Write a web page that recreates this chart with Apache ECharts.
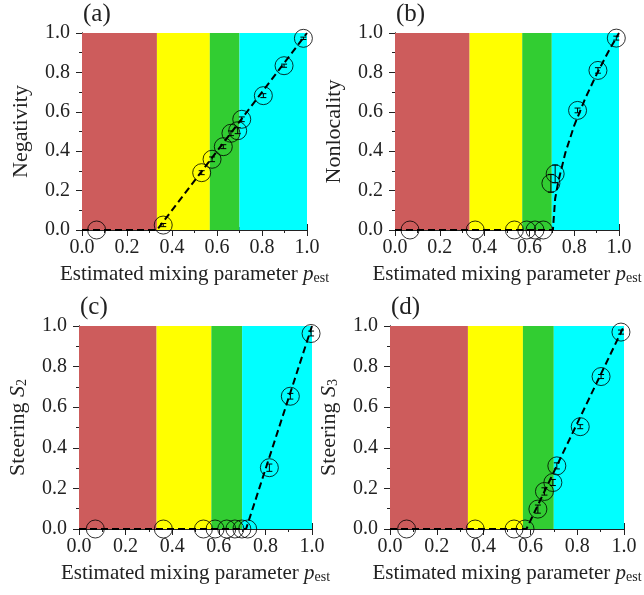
<!DOCTYPE html>
<html>
<head>
<meta charset="utf-8">
<script src="https://cdn.jsdelivr.net/npm/echarts@6/dist/echarts.min.js"></script>
<style>html,body{margin:0;padding:0;background:#fff;}#c{width:644px;height:595px;}</style>
</head>
<body>
<div id="c"></div>
<script>
// ---- data ----
const panelLabels = ['(a)', '(b)', '(c)', '(d)'];
const yNames = ['Negativity', 'Nonlocality', 'Steering {it|S}{sub|2}', 'Steering {it|S}{sub|3}'];
const xName = 'Estimated mixing parameter {it|p}{sub|est}';
const tickValues = [0.0, 0.2, 0.4, 0.6, 0.8, 1.0];

const bandEdges = [0, 0.333, 0.568, 0.700, 1.0];
const bandColors = ['#CD5C5C', '#FFFF00', '#32CD32', '#00FFFF'];

const pEstA = [0.065, 0.361, 0.532, 0.578, 0.628, 0.662, 0.692, 0.710, 0.806, 0.898, 0.984];
const negativity = [0.0, 0.025, 0.291, 0.359, 0.423, 0.491, 0.504, 0.562, 0.682, 0.834, 0.973];
const negErr = [0, 0.008, 0.010, 0.012, 0.010, 0.012, 0.015, 0.012, 0.010, 0.008, 0.006];
const theoryAx = [0.0, 0.333, 1.0];
const theoryAy = [0.0, 0.0, 1.0];

const pEstB = [0.067, 0.358, 0.533, 0.588, 0.625, 0.662, 0.696, 0.715, 0.815, 0.906, 0.988];
const nonlocality = [0.0, 0.0, 0.0, 0.0, 0.0, 0.0, 0.237, 0.285, 0.607, 0.810, 0.974];
const nonErr = [0, 0, 0, 0, 0, 0, 0.045, 0.045, 0.012, 0.014, 0.010];
const theoryBx = [0.0, 0.705, 0.715, 0.73, 0.76, 0.80, 0.85, 0.90, 0.95, 1.0];
const theoryBy = [0.0, 0.0, 0.16, 0.25, 0.39, 0.53, 0.67, 0.79, 0.90, 1.0];

const pEstC = [0.070, 0.362, 0.534, 0.584, 0.634, 0.669, 0.699, 0.724, 0.817, 0.907, 0.996];
const steering2 = [0.0, 0.0, 0.0, 0.0, 0.0, 0.0, 0.0, 0.0, 0.302, 0.654, 0.963];
const s2Err = [0, 0, 0, 0, 0, 0, 0, 0, 0.018, 0.014, 0.012];
const theoryCx = [0.0, 0.717, 1.0];
const theoryCy = [0.0, 0.0, 1.0];

const pEstD = [0.071, 0.364, 0.530, 0.577, 0.632, 0.660, 0.696, 0.713, 0.813, 0.902, 0.987];
const steering3 = [0.0, 0.0, 0.0, 0.0, 0.098, 0.185, 0.229, 0.311, 0.504, 0.751, 0.970];
const s3Err = [0, 0, 0, 0, 0.020, 0.018, 0.015, 0.015, 0.010, 0.010, 0.010];
const theoryDx = [0.0, 0.583, 1.0];
const theoryDy = [0.0, 0.0, 1.0];

const panels = [
  {px: pEstA, py: negativity, err: negErr, tx: theoryAx, ty: theoryAy},
  {px: pEstB, py: nonlocality, err: nonErr, tx: theoryBx, ty: theoryBy},
  {px: pEstC, py: steering2, err: s2Err, tx: theoryCx, ty: theoryCy},
  {px: pEstD, py: steering3, err: s3Err, tx: theoryDx, ty: theoryDy}
];

// ---- layout ----
const grids = [
  {left: 82, top: 33, width: 225, height: 197},
  {left: 395, top: 33, width: 224, height: 197},
  {left: 79, top: 326, width: 233, height: 203},
  {left: 390, top: 326, width: 234, height: 203}
];
const FONT = 'Liberation Serif';
function rich(sz) {
  return {
    it: {fontStyle: 'italic', fontFamily: FONT, fontSize: sz, color: '#222'},
    sub: {fontFamily: FONT, fontSize: Math.round(sz * 0.65), color: '#222', verticalAlign: 'bottom', lineHeight: 10}
  };
}

const xAxes = [], yAxes = [], series = [], graphics = [];
const fmt = v => v.toFixed(1);

grids.forEach((g, i) => {
  const common = {
    min: 0, max: 1, interval: 0.2,
    axisLine: {show: true, lineStyle: {color: '#222', width: 1}},
    axisTick: {show: true, inside: true, length: 6, lineStyle: {color: '#222'}},
    minorTick: {show: true, splitNumber: 2, length: 3, lineStyle: {color: '#222'}},
    splitLine: {show: false}
  };
  xAxes.push(Object.assign({}, common, {
    gridIndex: i, type: 'value', position: 'bottom',
    axisLabel: {fontFamily: FONT, fontSize: 20, color: '#222', margin: 8, formatter: fmt},
    name: xName, nameLocation: 'middle', nameGap: 34,
    nameTextStyle: {fontFamily: FONT, fontSize: 21, color: '#222', rich: rich(21)}
  }));
  xAxes.push(Object.assign({}, common, {
    gridIndex: i, type: 'value', position: 'top', axisLabel: {show: false}
  }));
  yAxes.push(Object.assign({}, common, {
    gridIndex: i, type: 'value', position: 'left',
    axisLabel: {fontFamily: FONT, fontSize: 20, color: '#222', margin: 12, formatter: fmt},
    name: yNames[i], nameLocation: 'middle', nameGap: 50,
    nameTextStyle: {fontFamily: FONT, fontSize: 22, color: '#222', rich: rich(22)}
  }));
  yAxes.push(Object.assign({}, common, {
    gridIndex: i, type: 'value', position: 'right', axisLabel: {show: false}
  }));

  const xi = 2 * i, yi = 2 * i;
  const p = panels[i];

  // colour bands
  const bandData = bandColors.map((c, k) => [bandEdges[k], bandEdges[k + 1], k]);
  series.push({
    type: 'custom', xAxisIndex: xi, yAxisIndex: yi, z: 1, silent: true,
    data: bandData,
    renderItem: (params, api) => {
      const a = api.coord([api.value(0), 1]);
      const b = api.coord([api.value(1), 0]);
      return {type: 'rect', shape: {x: a[0], y: a[1], width: b[0] - a[0], height: b[1] - a[1]},
        style: {fill: bandColors[api.value(2)]}};
    }
  });

  // theory dashed line
  series.push({
    type: 'line', xAxisIndex: xi, yAxisIndex: yi, z: 3, symbol: 'none', silent: true,
    data: p.tx.map((x, k) => [x, p.ty[k]]),
    lineStyle: {color: '#000', width: 2, type: [7, 4]}
  });

  // error bars
  series.push({
    type: 'custom', xAxisIndex: xi, yAxisIndex: yi, z: 4, silent: true,
    data: p.px.map((x, k) => [x, p.py[k], p.err[k]]),
    renderItem: (params, api) => {
      const e = api.value(2);
      if (!e) return null;
      const x = api.value(0), y = api.value(1);
      const t = api.coord([x, y + e]);
      const b = api.coord([x, y - e]);
      const w = 3;
      const st = {stroke: '#000', lineWidth: 1};
      return {type: 'group', children: [
        {type: 'line', shape: {x1: t[0], y1: t[1], x2: b[0], y2: b[1]}, style: st},
        {type: 'line', shape: {x1: t[0] - w, y1: t[1], x2: t[0] + w, y2: t[1]}, style: st},
        {type: 'line', shape: {x1: b[0] - w, y1: b[1], x2: b[0] + w, y2: b[1]}, style: st}
      ]};
    }
  });

  // data circles
  series.push({
    type: 'scatter', xAxisIndex: xi, yAxisIndex: yi, z: 5, clip: false,
    symbol: 'circle', symbolSize: 18,
    data: p.px.map((x, k) => [x, p.py[k]]),
    itemStyle: {color: 'rgba(0,0,0,0)', borderColor: '#000', borderWidth: 1}
  });

  graphics.push({
    type: 'text', left: g.left + 1, top: g.top - 31,
    style: {text: panelLabels[i], fontFamily: FONT, fontSize: 25, fill: '#222'}
  });
});

const chart = echarts.init(document.getElementById('c'), null, {renderer: 'canvas'});
chart.setOption({
  backgroundColor: '#fff',
  animation: false,
  textStyle: {fontFamily: FONT},
  grid: grids.map(g => Object.assign({containLabel: false}, g)),
  xAxis: xAxes,
  yAxis: yAxes,
  series: series,
  graphic: graphics
});
</script>
</body>
</html>
